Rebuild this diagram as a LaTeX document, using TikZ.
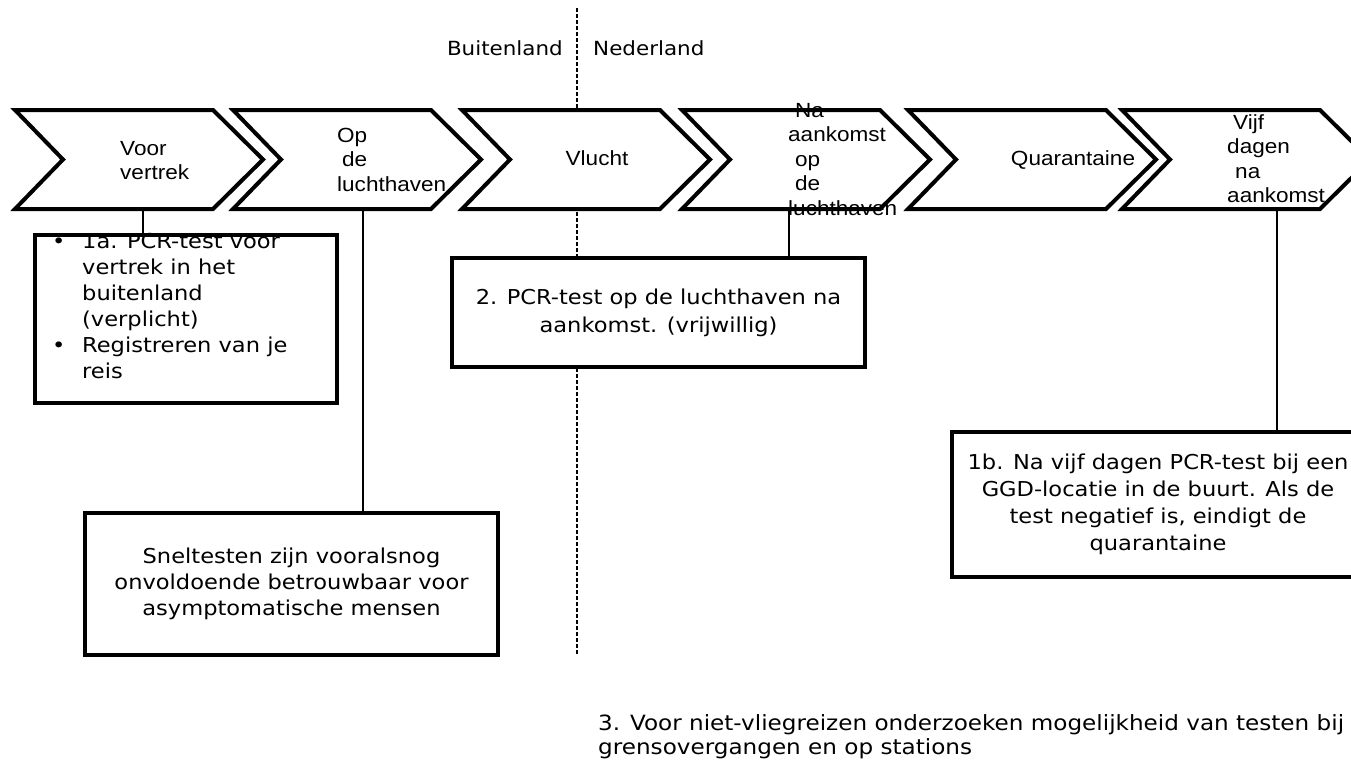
\documentclass[tikz,border=0pt]{standalone}
\usepackage{fontspec}
\setmainfont[FakeStretch=1.1]{DejaVu Sans}
\newfontfamily\arialf[FakeStretch=1.1]{Liberation Sans}
\newcommand\stk[2][l]{\begin{tabular}[t]{@{}#1@{}}#2\end{tabular}}
\newcommand\chevron[2]{%
  \draw[chev] (#1,110) -- (#1+198,110) -- (#1+248,159.5) -- (#1+198,209) -- (#1,209) -- (#1+48,159.5) -- cycle;
  \coordinate (#2) at (#1+124,159.5);}
\begin{document}
\begin{tikzpicture}[x=1pt,y=-1pt,
  chev/.style={draw=black, line width=4pt, fill=white, line join=miter},
  box/.style={draw=black, line width=4pt, fill=white, inner sep=0pt},
  conn/.style={draw=black, line width=2pt},
  divider/.style={draw=black, line width=2.2pt, dash pattern=on 4pt off 2pt},
  clab/.style={font=\arialf\fontsize{20.5}{24.5}\selectfont, inner sep=0pt},
  btxt/.style={font=\fontsize{20.5}{26}\selectfont, align=center},
  ptxt/.style={font=\fontsize{20.5}{26}\selectfont, inner sep=0pt}]
\useasboundingbox (0,0) rectangle (1351,761);
\clip (0,0) rectangle (1351,761);
% divider
\coordinate (d1) at (577,8);
\coordinate (d2) at (577,655);
\draw[divider] (d1) -- (d2);
\node[ptxt, anchor=base east, font=\fontsize{19.5}{24}\selectfont] (bl) at (563,55) {Buitenland};
\node[ptxt, anchor=base west, font=\fontsize{19.5}{24}\selectfont] (nl) at (593,55) {Nederland};
% chevrons
\chevron{15}{ch1}
\chevron{233}{ch2}
\chevron{462}{ch3}
\chevron{682}{ch4}
\chevron{908}{ch5}
\chevron{1122}{ch6}
% connector anchors
\coordinate (k1) at (143,209);
\coordinate (k2) at (363,209);
\coordinate (k4) at (789,209);
\coordinate (k6) at (1277,209);
% boxes
\node[box, minimum width=302pt, minimum height=168pt] (b1) at (186,319) {};
\node[box, btxt, minimum width=413pt, minimum height=109pt, font=\fontsize{20.5}{28}\selectfont] (b2) at (658.5,312.5)
  {2. PCR-test op de luchthaven na\\aankomst. (vrijwillig)};
\node[box, btxt, minimum width=413pt, minimum height=142pt] (b3) at (291.5,584)
  {Sneltesten zijn vooralsnog\\onvoldoende betrouwbaar voor\\asymptomatische mensen};
\node[box, btxt, minimum width=412pt, minimum height=145pt, font=\fontsize{20.5}{27}\selectfont] (b4) at (1158,504.5)
  {1b. Na vijf dagen PCR-test bij een\\GGD-locatie in de buurt. Als de\\test negatief is, eindigt de\\quarantaine};
% connectors
\draw[conn] (k1) -- (k1 |- b1.north);
\draw[conn] (k2) -- (k2 |- b3.north);
\draw[conn] (k4) -- (k4 |- b2.north);
\draw[conn] (k6) -- (k6 |- b4.north);
% box 1 text
\node[ptxt, anchor=base west] (b1t) at (52,248)
  {\begin{tabular}[t]{@{}p{30pt}@{}l@{}}
   \textbullet & 1a. PCR-test voor\\
   & vertrek in het\\
   & buitenland\\
   & (verplicht)\\
   \textbullet & Registreren van je\\
   & reis
   \end{tabular}};
% chevron labels
\node[clab, anchor=base west] (l1) at (120,155) {\stk{Voor\\vertrek}};
\node[clab, anchor=base west] (l2) at (337,142) {\stk{Op\\\hspace{5pt}de\\luchthaven}};
\node[clab, anchor=base] (l3) at (597,165) {Vlucht};
\node[clab, anchor=base west] (l4) at (788,117) {\stk{\hspace{7pt}Na\\aankomst\\\hspace{7pt}op\\\hspace{7pt}de\\luchthaven}};
\node[clab, anchor=base] (l5) at (1073,165) {Quarantaine};
\node[clab, anchor=base west] (l6) at (1227,129) {\stk{\hspace{6pt}Vijf\\dagen\\\hspace{8pt}na\\aankomst}};
% bottom note
\node[ptxt, anchor=base west, font=\fontsize{21}{24.5}\selectfont] (t3) at (598,730)
  {\stk{3. Voor niet-vliegreizen onderzoeken mogelijkheid van testen bij\\grensovergangen en op stations}};
\end{tikzpicture}
\end{document}
